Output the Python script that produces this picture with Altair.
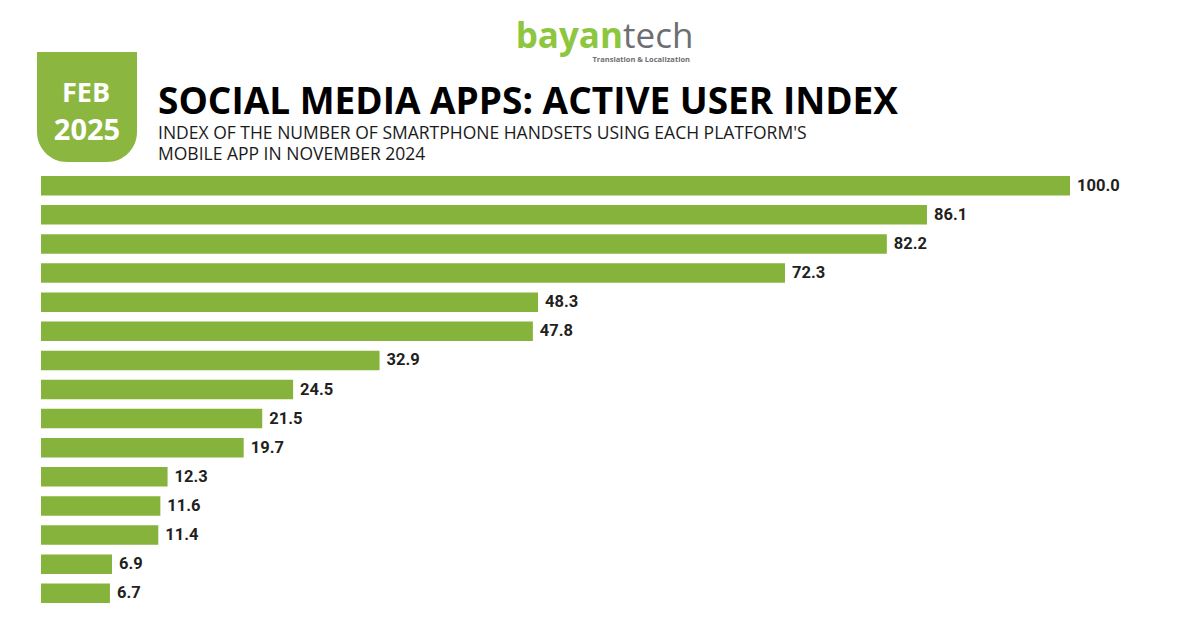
import altair as alt
import pandas as pd

# ---- data ----
apps = ["WhatsApp", "Facebook", "Instagram", "TikTok", "Messenger", "Telegram",
        "Snapchat", "Pinterest", "X (Twitter)", "Threads", "LINE", "Discord",
        "Reddit", "Quora", "Tumblr"]
index_values = [100.0, 86.1, 82.2, 72.3, 48.3, 47.8, 32.9, 24.5, 21.5, 19.7,
                12.3, 11.6, 11.4, 6.9, 6.7]

title_text = "SOCIAL MEDIA APPS: ACTIVE USER INDEX"
subtitle_lines = ["INDEX OF THE NUMBER OF SMARTPHONE HANDSETS USING EACH PLATFORM'S",
                  "MOBILE APP IN NOVEMBER 2024"]
badge_lines = ["FEB", "2025"]

df = pd.DataFrame({"app": apps, "value": index_values})
one = pd.DataFrame({"k": [0]})

BAR = "#86B33B"
BADGE = "#8BB741"
LOGO_GREEN = "#8DC63F"
LOGO_GRAY = "#6D6E71"
FONT = "Open Sans"
LABEL_FONT = "Roboto"

# plot-area origin is at page (41, 176)
OX, OY = 41, 176

y_enc = alt.Y("app:N", sort=None, axis=None,
              scale=alt.Scale(paddingInner=0.33, paddingOuter=0.0))
x_enc = alt.X("value:Q", axis=None, scale=alt.Scale(domain=[0, 100], nice=False, zero=True))

bars = alt.Chart(df).mark_bar(color=BAR).encode(x=x_enc, y=y_enc)
labels = alt.Chart(df).mark_text(
    align="left", baseline="middle", dx=7, fontSize=16.5, font=LABEL_FONT,
    fontWeight="bold", color="#231F20"
).encode(x=x_enc, y=y_enc, text=alt.Text("value:Q", format=".1f"))


def txt(text, x, y, **kw):
    return alt.Chart(one).mark_text(text=text, **kw).encode(
        x=alt.value(x - OX), y=alt.value(y - OY))


badge = alt.Chart(one).mark_rect(
    color=BADGE, cornerRadiusBottomLeft=30, cornerRadiusBottomRight=30
).encode(x=alt.value(37 - OX), x2=alt.value(137 - OX),
         y=alt.value(52 - OY), y2=alt.value(162 - OY))

header = [
    badge,
    txt(badge_lines[0], 86, 102, align="center", baseline="alphabetic",
        font=FONT, fontWeight="bold", fontSize=27, color="white"),
    txt(badge_lines[1], 87, 140, align="center", baseline="alphabetic",
        font=FONT, fontWeight="bold", fontSize=29, color="white"),
    txt(title_text, 158, 114, align="left", baseline="alphabetic",
        font=FONT, fontWeight="bold", fontSize=37, color="#000000"),
    txt(subtitle_lines[0], 158, 139, align="left", baseline="alphabetic",
        font=FONT, fontSize=17.5, color="#1A1A1A"),
    txt(subtitle_lines[1], 158, 160, align="left", baseline="alphabetic",
        font=FONT, fontSize=17.5, color="#1A1A1A"),
    txt("bayan", 623, 48, align="right", baseline="alphabetic",
        font=FONT, fontWeight="bold", fontSize=35, color=LOGO_GREEN),
    txt("tech", 623, 48, align="left", baseline="alphabetic",
        font=FONT, fontSize=35, color=LOGO_GRAY),
    txt("Translation & Localization", 690, 62, align="right", baseline="alphabetic",
        font=FONT, fontWeight="bold", fontSize=7.5, color=LOGO_GRAY),
]

chart = alt.layer(bars, labels, *header).properties(
    width=1029, height=427,
    autosize=alt.AutoSizeParams(type="none"),
    padding={"left": OX - 8, "top": OY - 8, "right": 1184 - (OX - 8) - 1029,
             "bottom": 614 - (OY - 8) - 427},
    background="white",
).configure_view(stroke=None)

chart.save("out.html", embed_options={"renderer": "svg", "actions": False})
